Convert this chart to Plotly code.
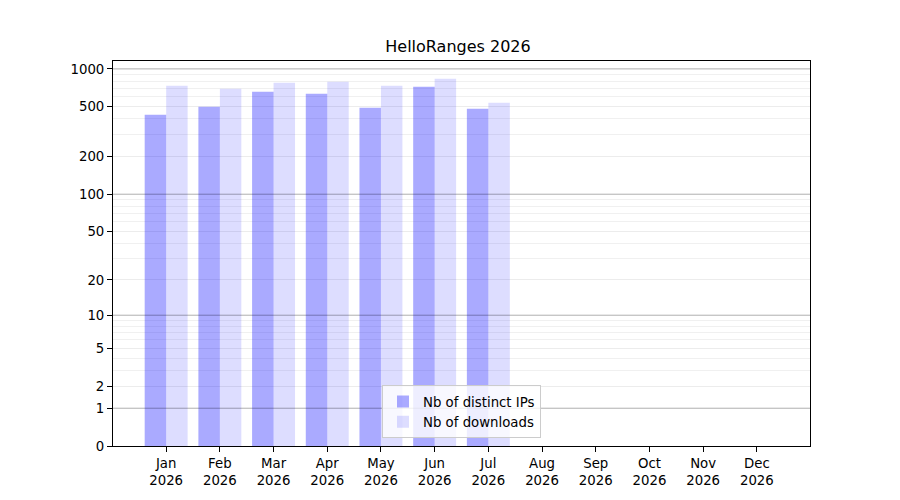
import numpy as np
import plotly.graph_objects as go

# chart data
months = ["Jan", "Feb", "Mar", "Apr", "May", "Jun", "Jul", "Aug", "Sep", "Oct", "Nov", "Dec"]
year = "2026"
distinct_ips = [432, 500, 658, 634, 491, 721, 482, 0, 0, 0, 0, 0]
downloads = [735, 695, 776, 791, 735, 836, 538, 0, 0, 0, 0, 0]

# y axis uses a log10(v + 1) scale -> shift by one on a plotly log axis
y_ticks = [0, 1, 2, 5, 10, 20, 50, 100, 200, 500, 1000]
y_major_grid = [1, 10, 100, 1000]
y_minor_grid = [m * d for d in (1, 10, 100) for m in range(2, 10)]

labels = [f"{m}<br>{year}" for m in months]
font = "DejaVu Sans, Arial, sans-serif"

fig = go.Figure()
fig.add_trace(go.Bar(
    x=labels, y=np.array(distinct_ips) + 1,
    name="Nb of distinct IPs",
    marker=dict(color="rgba(0,0,255,0.333)", line=dict(width=0)),
))
fig.add_trace(go.Bar(
    x=labels, y=np.array(downloads) + 1,
    name="Nb of downloads",
    marker=dict(color="rgba(0,0,255,0.133)", line=dict(width=0)),
))

# darker grid lines at the decades (drawn over the bars like matplotlib)
for v in y_major_grid:
    fig.add_shape(type="line", xref="paper", x0=0, x1=1, yref="y", y0=v + 1, y1=v + 1,
                  line=dict(color="rgba(0,0,0,0.25)", width=1), layer="above")

fig.update_layout(
    width=900, height=500,
    margin=dict(l=105, r=98, t=53, b=62),
    plot_bgcolor="white", paper_bgcolor="white",
    font=dict(family=font, size=13.3, color="black"),
    title=dict(text="HelloRanges 2026", x=0.5, xanchor="center", y=0.924, yanchor="middle",
               font=dict(size=16, color="black")),
    barmode="group", bargap=0.2, bargroupgap=0,
    showlegend=True,
    legend=dict(
        x=0.5, xanchor="center", y=0.02, yanchor="bottom",
        bgcolor="rgba(255,255,255,0.8)", bordercolor="#cccccc", borderwidth=1,
        font=dict(size=13.3), tracegroupgap=0,
    ),
    xaxis=dict(
        type="category", range=[-0.99, 11.99],
        showline=True, linecolor="black", linewidth=1, mirror=True,
        ticks="outside", ticklen=5, tickcolor="black",
        showgrid=False, zeroline=False,
    ),
    yaxis=dict(
        type="log", range=[0, 3.064],
        tickvals=[v + 1 for v in y_ticks], ticktext=[str(v) for v in y_ticks],
        showline=True, linecolor="black", linewidth=1, mirror=True,
        ticks="outside", ticklen=5, tickcolor="black",
        showgrid=True, gridcolor="#ececec", gridwidth=1,
        minor=dict(tickvals=[v + 1 for v in y_minor_grid], showgrid=True,
                   gridcolor="#f0f0f0", gridwidth=1, ticks=""),
        zeroline=False,
    ),
)

fig.write_html("out.html")
